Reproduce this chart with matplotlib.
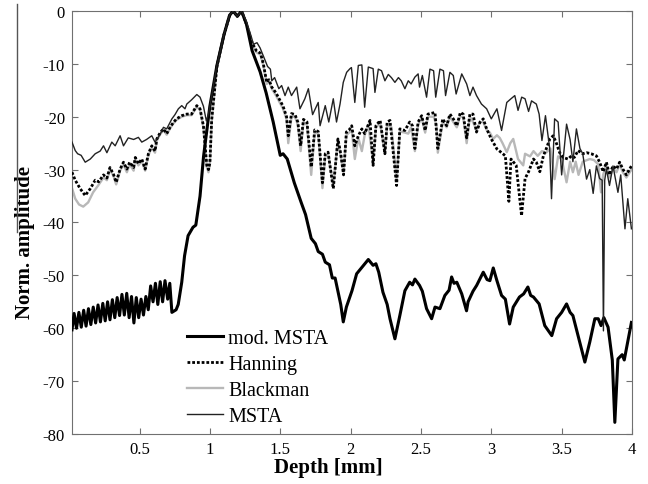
import matplotlib.pyplot as plt
import numpy as np
from matplotlib.lines import Line2D

# (depth [mm], normalised amplitude [dB])
mod_msta = [
    (0.020, -60.3), (0.035, -57.2), (0.052, -60.0), (0.069, -57.0), (0.086, -59.8),
    (0.103, -56.6), (0.120, -59.6), (0.137, -56.3), (0.154, -59.3), (0.171, -56.0),
    (0.188, -59.0), (0.205, -55.6), (0.222, -58.8), (0.239, -55.3), (0.256, -58.6),
    (0.273, -55.0), (0.290, -58.4), (0.307, -54.6), (0.324, -58.0), (0.341, -54.2),
    (0.358, -57.6), (0.375, -53.6), (0.392, -57.5), (0.409, -53.4), (0.426, -58.0),
    (0.443, -54.0), (0.460, -59.0), (0.477, -54.2), (0.494, -58.0), (0.511, -54.5),
    (0.528, -57.5), (0.545, -54.0), (0.562, -56.5), (0.579, -52.0), (0.596, -55.0),
    (0.613, -51.5), (0.630, -55.5), (0.647, -51.2), (0.664, -55.0), (0.681, -51.0),
    (0.700, -54.5), (0.715, -51.5), (0.730, -57.0), (0.760, -56.5), (0.775, -55.5),
    (0.800, -51.3), (0.820, -46.3), (0.845, -42.5), (0.880, -40.9), (0.900, -40.5),
    (0.930, -35.0), (0.955, -27.5), (1.000, -18.0), (1.050, -10.3), (1.100, -4.5),
    (1.140, -0.8), (1.165, 0.0), (1.195, -1.0), (1.225, 0.0), (1.260, -2.5),
    (1.300, -7.5), (1.357, -11.5), (1.400, -15.5), (1.450, -21.0), (1.500, -27.3),
    (1.520, -27.0), (1.550, -28.0), (1.600, -32.5), (1.650, -36.3), (1.680, -38.5),
    (1.720, -43.0), (1.750, -44.0), (1.770, -45.5), (1.800, -46.0), (1.820, -47.5),
    (1.850, -48.0), (1.870, -50.5), (1.890, -50.5), (1.910, -53.0), (1.930, -55.5),
    (1.948, -58.8), (1.970, -56.0), (2.010, -52.9), (2.043, -49.7), (2.080, -48.5),
    (2.126, -47.0), (2.160, -48.1), (2.180, -47.8), (2.200, -49.4), (2.230, -53.2),
    (2.260, -55.5), (2.280, -58.2), (2.315, -62.0), (2.350, -57.6), (2.386, -52.9),
    (2.420, -51.3), (2.440, -51.8), (2.457, -50.7), (2.490, -51.9), (2.510, -53.0),
    (2.540, -56.3), (2.576, -58.2), (2.600, -56.0), (2.635, -56.3), (2.670, -53.8),
    (2.700, -52.8), (2.718, -50.3), (2.735, -51.5), (2.755, -51.3), (2.790, -53.5),
    (2.824, -56.7), (2.835, -55.0), (2.870, -53.0), (2.896, -51.9), (2.943, -49.4),
    (2.970, -50.8), (2.990, -51.0), (3.014, -48.6), (3.040, -51.0), (3.073, -53.8),
    (3.100, -54.5), (3.130, -59.2), (3.156, -56.0), (3.200, -54.1), (3.230, -53.5),
    (3.260, -52.2), (3.280, -53.8), (3.300, -54.1), (3.340, -55.4), (3.380, -59.5),
    (3.430, -61.4), (3.464, -58.2), (3.500, -57.0), (3.535, -55.4), (3.560, -57.0),
    (3.580, -57.6), (3.617, -61.4), (3.665, -66.4), (3.700, -62.6), (3.736, -58.2),
    (3.760, -58.2), (3.780, -59.5), (3.800, -58.0), (3.830, -59.8), (3.860, -66.0),
    (3.878, -77.8), (3.900, -65.8), (3.930, -65.0), (3.945, -66.0), (3.996, -58.9),
]

hanning = [
    (0.020, -30.5), (0.043, -32.0), (0.078, -33.6), (0.114, -34.9), (0.150, -33.6),
    (0.185, -32.0), (0.210, -32.3), (0.244, -31.0), (0.268, -31.6), (0.290, -29.6),
    (0.315, -30.9), (0.334, -32.4), (0.362, -29.9), (0.386, -28.6), (0.410, -29.9),
    (0.430, -28.6), (0.458, -29.6), (0.470, -27.7), (0.492, -28.9), (0.516, -28.0),
    (0.540, -29.9), (0.563, -27.0), (0.587, -25.5), (0.610, -26.5), (0.623, -24.2),
    (0.647, -23.0), (0.670, -22.3), (0.693, -23.2), (0.717, -22.0), (0.740, -21.1),
    (0.763, -20.4), (0.800, -19.8), (0.836, -19.5), (0.870, -19.5), (0.907, -17.9),
    (0.930, -18.5), (0.954, -21.7), (0.978, -29.2), (0.990, -30.0), (1.000, -28.7),
    (1.013, -20.5), (1.050, -10.5), (1.100, -4.5), (1.140, -0.9), (1.165, 0.0),
    (1.195, -1.0), (1.225, 0.0), (1.260, -2.5), (1.300, -6.0), (1.330, -7.5),
    (1.360, -8.0), (1.380, -10.0), (1.404, -13.5), (1.420, -13.0), (1.440, -14.4),
    (1.470, -15.5), (1.500, -17.0), (1.520, -18.0), (1.545, -20.0), (1.557, -23.6),
    (1.580, -19.4), (1.605, -19.6), (1.625, -21.0), (1.645, -25.5), (1.665, -20.5),
    (1.690, -21.0), (1.720, -29.5), (1.745, -22.5), (1.770, -22.8), (1.800, -32.5),
    (1.820, -27.0), (1.840, -26.7), (1.877, -33.6), (1.910, -24.2), (1.930, -27.0),
    (1.950, -31.0), (1.970, -22.9), (1.990, -22.5), (2.008, -21.7), (2.030, -25.5),
    (2.055, -23.6), (2.080, -22.3), (2.100, -23.2), (2.138, -20.7), (2.160, -29.2),
    (2.180, -21.7), (2.210, -20.7), (2.244, -27.0), (2.260, -21.0), (2.280, -20.7),
    (2.327, -33.0), (2.350, -22.3), (2.386, -22.6), (2.420, -21.0), (2.440, -21.7),
    (2.457, -26.0), (2.480, -21.0), (2.505, -19.8), (2.530, -22.6), (2.550, -19.5),
    (2.600, -19.2), (2.620, -26.0), (2.655, -20.4), (2.683, -21.7), (2.706, -19.5),
    (2.730, -20.4), (2.755, -21.7), (2.780, -19.2), (2.800, -19.5), (2.825, -24.0),
    (2.848, -19.5), (2.870, -19.5), (2.895, -22.9), (2.920, -21.0), (2.943, -20.4),
    (2.967, -22.3), (3.000, -24.2), (3.040, -26.1), (3.073, -26.8), (3.100, -27.4),
    (3.125, -36.0), (3.140, -28.0), (3.177, -29.2), (3.215, -38.7), (3.240, -31.7),
    (3.265, -30.4), (3.300, -28.0), (3.320, -28.6), (3.345, -30.4), (3.370, -27.4),
    (3.390, -26.1), (3.416, -24.2), (3.440, -23.6), (3.460, -24.8), (3.486, -26.8),
    (3.510, -27.7), (3.545, -28.0), (3.570, -27.4), (3.590, -27.7), (3.617, -26.4),
    (3.650, -27.0), (3.677, -26.8), (3.710, -27.0), (3.747, -27.4), (3.770, -28.6),
    (3.795, -30.4), (3.818, -28.6), (3.840, -31.0), (3.865, -29.3), (3.890, -29.9),
    (3.912, -28.6), (3.935, -29.9), (3.960, -31.0), (3.996, -29.3),
]

blackman = [
    (0.020, -33.5), (0.043, -35.5), (0.070, -36.6), (0.100, -37.0), (0.135, -36.2),
    (0.170, -34.3), (0.206, -33.0), (0.244, -31.5), (0.268, -32.0), (0.290, -30.0),
    (0.315, -31.2), (0.334, -32.8), (0.362, -30.2), (0.386, -29.0), (0.410, -30.5),
    (0.430, -29.0), (0.458, -30.2), (0.470, -28.0), (0.492, -29.2), (0.516, -28.3),
    (0.540, -30.2), (0.563, -27.3), (0.587, -25.8), (0.610, -26.8), (0.623, -24.5),
    (0.647, -23.3), (0.670, -22.5), (0.693, -23.4), (0.717, -22.2), (0.740, -21.3),
    (0.763, -20.6), (0.800, -20.0), (0.836, -19.7), (0.870, -19.7), (0.907, -18.1),
    (0.930, -18.7), (0.954, -22.0), (0.978, -29.5), (0.990, -30.5), (1.000, -29.0),
    (1.013, -20.8), (1.050, -10.5), (1.100, -4.5), (1.140, -0.9), (1.165, 0.0),
    (1.195, -1.0), (1.225, 0.0), (1.260, -2.6), (1.300, -6.2), (1.330, -7.8),
    (1.360, -8.3), (1.380, -10.3), (1.404, -13.8), (1.420, -13.3), (1.440, -14.7),
    (1.470, -16.0), (1.500, -17.5), (1.520, -18.5), (1.545, -20.5), (1.557, -25.0),
    (1.580, -20.0), (1.605, -20.0), (1.625, -21.5), (1.645, -26.5), (1.665, -21.0),
    (1.690, -21.5), (1.720, -31.0), (1.745, -23.0), (1.770, -23.2), (1.800, -33.5),
    (1.820, -27.5), (1.840, -27.0), (1.877, -33.0), (1.910, -24.5), (1.930, -27.5),
    (1.950, -30.5), (1.970, -23.5), (1.990, -23.0), (2.008, -22.5), (2.030, -28.0),
    (2.055, -24.0), (2.080, -26.5), (2.100, -23.5), (2.126, -21.5), (2.160, -28.5),
    (2.180, -22.0), (2.210, -21.2), (2.244, -27.0), (2.260, -21.5), (2.290, -22.0),
    (2.327, -32.0), (2.350, -22.8), (2.386, -23.0), (2.410, -23.2), (2.430, -22.0),
    (2.457, -26.5), (2.480, -21.5), (2.505, -20.2), (2.530, -23.0), (2.550, -20.0),
    (2.590, -20.0), (2.610, -21.5), (2.620, -26.8), (2.655, -21.0), (2.683, -22.0),
    (2.706, -20.0), (2.730, -21.0), (2.755, -22.0), (2.777, -20.0), (2.800, -20.0),
    (2.825, -25.0), (2.848, -20.0), (2.870, -21.0), (2.895, -22.5), (2.920, -21.0),
    (2.943, -21.0), (2.967, -22.5), (2.990, -23.0), (3.013, -24.2), (3.040, -23.5),
    (3.060, -24.0), (3.080, -25.0), (3.110, -26.7), (3.135, -25.0), (3.156, -24.2),
    (3.190, -28.0), (3.227, -29.2), (3.240, -27.0), (3.275, -27.5), (3.300, -26.5),
    (3.330, -27.4), (3.360, -26.5), (3.390, -26.8), (3.420, -26.0), (3.450, -31.8),
    (3.475, -27.5), (3.500, -28.0), (3.535, -32.4), (3.560, -28.5), (3.580, -30.5),
    (3.600, -28.5), (3.620, -31.0), (3.650, -28.5), (3.700, -28.0), (3.730, -28.2),
    (3.760, -29.0), (3.780, -34.3), (3.795, -31.0), (3.818, -29.0), (3.840, -31.5),
    (3.865, -29.8), (3.890, -30.5), (3.912, -29.0), (3.935, -30.5), (3.960, -31.5),
    (3.996, -30.0),
]

msta = [
    (0.020, -24.8), (0.043, -26.4), (0.060, -27.0), (0.085, -27.3), (0.114, -28.6),
    (0.150, -28.0), (0.185, -27.0), (0.220, -26.5), (0.244, -25.5), (0.268, -26.8),
    (0.303, -24.8), (0.327, -25.5), (0.362, -23.6), (0.386, -25.5), (0.420, -24.0),
    (0.458, -24.3), (0.492, -23.9), (0.516, -24.8), (0.550, -24.3), (0.587, -23.6),
    (0.610, -24.8), (0.647, -23.3), (0.670, -22.0), (0.693, -22.3), (0.730, -20.4),
    (0.752, -19.6), (0.776, -18.5), (0.800, -17.9), (0.823, -18.5), (0.836, -17.6),
    (0.870, -16.8), (0.907, -15.8), (0.930, -16.3), (0.954, -18.0), (0.975, -20.8),
    (0.990, -19.5), (1.010, -16.5), (1.050, -10.3), (1.100, -4.5), (1.140, -0.8),
    (1.165, 0.0), (1.195, -1.0), (1.225, 0.0), (1.260, -2.0), (1.290, -4.5),
    (1.310, -6.3), (1.335, -6.0), (1.357, -7.0), (1.380, -8.5), (1.410, -10.5),
    (1.430, -11.0), (1.440, -13.2), (1.460, -12.6), (1.490, -14.7), (1.510, -14.1),
    (1.534, -16.0), (1.557, -14.4), (1.580, -16.0), (1.617, -14.4), (1.640, -18.5),
    (1.675, -16.6), (1.700, -14.7), (1.730, -19.6), (1.770, -17.3), (1.783, -21.7),
    (1.820, -17.9), (1.845, -21.0), (1.877, -16.6), (1.900, -21.0), (1.925, -17.6),
    (1.948, -13.5), (1.972, -11.6), (1.996, -10.9), (2.006, -10.7), (2.030, -17.3),
    (2.055, -10.3), (2.080, -10.2), (2.100, -18.2), (2.126, -10.6), (2.160, -10.9),
    (2.173, -15.4), (2.197, -11.0), (2.220, -11.3), (2.244, -13.2), (2.268, -12.0),
    (2.290, -12.6), (2.315, -13.5), (2.340, -12.6), (2.360, -13.2), (2.386, -14.7),
    (2.410, -13.2), (2.430, -13.8), (2.457, -12.5), (2.480, -11.9), (2.490, -14.4),
    (2.510, -12.2), (2.540, -16.3), (2.564, -11.0), (2.590, -11.3), (2.605, -16.3),
    (2.635, -11.0), (2.660, -11.3), (2.675, -16.0), (2.706, -11.6), (2.730, -12.2),
    (2.750, -15.7), (2.790, -11.9), (2.825, -13.8), (2.848, -16.0), (2.870, -14.4),
    (2.895, -16.0), (2.930, -17.6), (2.967, -18.5), (3.000, -20.4), (3.040, -18.5),
    (3.073, -22.6), (3.110, -17.3), (3.140, -16.6), (3.167, -16.0), (3.190, -18.8),
    (3.216, -16.3), (3.240, -16.6), (3.265, -19.0), (3.286, -17.0), (3.320, -17.6),
    (3.340, -19.5), (3.360, -24.5), (3.385, -19.8), (3.415, -26.0), (3.428, -35.5),
    (3.450, -20.4), (3.475, -21.0), (3.500, -31.0), (3.535, -21.4), (3.560, -24.3),
    (3.580, -28.5), (3.605, -22.3), (3.630, -26.0), (3.650, -27.0), (3.677, -31.8),
    (3.700, -30.0), (3.724, -34.5), (3.747, -29.3), (3.770, -31.7), (3.788, -32.0),
    (3.797, -60.5), (3.806, -32.0), (3.818, -29.9), (3.840, -33.0), (3.865, -29.3),
    (3.900, -34.3), (3.920, -31.0), (3.950, -41.2), (3.970, -35.5), (3.996, -41.2),
]

x_ticks = [0.5, 1, 1.5, 2, 2.5, 3, 3.5, 4]
x_ticklabels = ["0.5", "1", "1.5", "2", "2.5", "3", "3.5", "4"]
y_ticks = [0, -10, -20, -30, -40, -50, -60, -70, -80]


def plot_profiles():
    plt.rcParams["font.family"] = ["Liberation Serif", "DejaVu Serif"]
    plt.rcParams["axes.unicode_minus"] = False

    fig = plt.figure(figsize=(6.48, 4.85), dpi=100)
    ax = fig.add_axes([0.1111, 0.1031, 0.8642, 0.8722])

    mx, my = np.array(mod_msta).T
    hx, hy = np.array(hanning).T
    bx, by = np.array(blackman).T
    sx, sy = np.array(msta).T

    ax.plot(mx, my, "-", c="black", lw=2.2, label="mod. MSTA", zorder=4)
    ax.plot(hx, hy, c="black", lw=2.0, ls=(0, (1.0, 0.7)), label="Hanning", zorder=3)
    ax.plot(bx, by, "-", c="#b8b8b8", lw=1.7, label="Blackman", zorder=2)
    ax.plot(sx, sy, "-", c="#222222", lw=1.0, label="MSTA", zorder=5)

    ax.set_xlim(0.02, 4)
    ax.set_ylim(-80, 0)
    ax.set_xticks(x_ticks)
    ax.set_xticklabels(x_ticklabels)
    ax.set_yticks(y_ticks)
    ax.tick_params(direction="in", length=4, width=0.8, color="#707070",
                   labelsize=12, top=True, right=True, pad=5)
    for spine in ax.spines.values():
        spine.set_color("#707070")
        spine.set_linewidth(0.8)

    ax.set_xlabel("Depth [mm]", fontsize=15, fontweight="bold", va="center")
    ax.set_ylabel("Norm. amplitude", fontsize=15, fontweight="bold", va="center")
    ax.xaxis.set_label_coords(0.457, -0.078)
    ax.yaxis.set_label_coords(-0.084, 0.455)

    ax.legend(loc="upper left", bbox_to_anchor=(0.205, 0.248), frameon=False,
              fontsize=14.5, handlelength=1.8, handletextpad=0.25,
              labelspacing=0.34, borderpad=0, borderaxespad=0)

    # stray rule at the left edge of the scan
    fig.add_artist(Line2D([17 / 648, 17 / 648], [1 - 5 / 485, 1 - 233 / 485],
                          transform=fig.transFigure, c="#555555", lw=1.0))

    fig.savefig("out.png", dpi=100)
    return fig, ax


if __name__ == '__main__':
    plot_profiles()
